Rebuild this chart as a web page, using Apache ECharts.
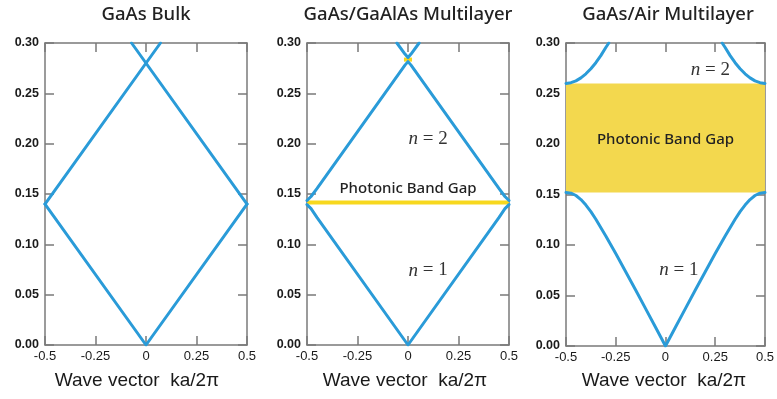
<!DOCTYPE html>
<html>
<head>
<meta charset="utf-8">
<script src="https://cdn.jsdelivr.net/npm/echarts@6/dist/echarts.min.js"></script>
<style>
  html, body { margin: 0; padding: 0; background: #fff; }
  #chart { width: 777px; height: 399px; }
</style>
</head>
<body>
<div id="chart"></div>
<script>
// ---- Tick labels ----
const kTickLabels = ['-0.5', '-0.25', '0', '0.25', '0.5'];
const wTickLabels = ['0.00', '0.05', '0.10', '0.15', '0.20', '0.25', '0.30'];

// ---- Panel titles ----
const panelTitles = ['GaAs Bulk', 'GaAs/GaAlAs Multilayer', 'GaAs/Air Multilayer'];
const axisTitle = 'Wave vector  ka/2\u03C0';

// ---- GaAs bulk: folded light lines [k, ωa/2πc] ----
const bulkV       = [[-0.5, 0.14], [0, 0], [0.5, 0.14]];
const bulkUpRight = [[-0.5, 0.14], [0.0714, 0.30]];
const bulkUpLeft  = [[0.5, 0.14], [-0.0714, 0.30]];

// ---- GaAs/GaAlAs multilayer bands ----
const mlBand1 = [[-0.5, 0.1395], [-0.48, 0.1355], [-0.45, 0.1265], [0, 0], [0.45, 0.1265], [0.48, 0.1355], [0.5, 0.1395]];
const mlBand2 = [[-0.5, 0.1435], [-0.48, 0.1475], [-0.45, 0.1555], [-0.015, 0.278], [0, 0.2815], [0.015, 0.278], [0.45, 0.1555], [0.48, 0.1475], [0.5, 0.1435]];
const mlBand3 = [[-0.055, 0.30], [-0.015, 0.289], [0, 0.2855], [0.015, 0.289], [0.055, 0.30]];
const mlGap    = [0.1395, 0.1435];
const mlGapTop = [0.2815, 0.2855];

// ---- GaAs/Air multilayer bands ----
const airBand1 = [[-0.5, 0.152], [-0.475, 0.1513], [-0.45, 0.149], [-0.425, 0.145], [-0.4, 0.1395], [-0.375, 0.133],
                  [-0.35, 0.1255], [-0.3, 0.109], [-0.25, 0.0915], [-0.2, 0.0735], [-0.15, 0.0555], [-0.1, 0.037],
                  [-0.05, 0.0185], [0, 0],
                  [0.05, 0.0185], [0.1, 0.037], [0.15, 0.0555], [0.2, 0.0735], [0.25, 0.0915], [0.3, 0.109],
                  [0.35, 0.1255], [0.375, 0.133], [0.4, 0.1395], [0.425, 0.145], [0.45, 0.149], [0.475, 0.1513], [0.5, 0.152]];
const airBand2Left  = [[-0.5, 0.26], [-0.475, 0.2607], [-0.45, 0.2625], [-0.425, 0.2655], [-0.4, 0.2695], [-0.375, 0.2745],
                       [-0.35, 0.2805], [-0.325, 0.2875], [-0.3, 0.2955], [-0.285, 0.30]];
const airBand2Right = [[0.5, 0.26], [0.475, 0.2607], [0.45, 0.2625], [0.425, 0.2655], [0.4, 0.2695], [0.375, 0.2745],
                       [0.35, 0.2805], [0.325, 0.2875], [0.3, 0.2955], [0.285, 0.30]];
const airGap = [0.152, 0.26];

const BLUE = '#2A9BD8';
const GAP_YELLOW = '#F3D84E';
const LINE_YELLOW = '#F7D81E';
const AXIS_GREY = '#7a7a7a';

const grids = [
  { left: 45,  top: 43, width: 202, height: 302 },
  { left: 307, top: 43, width: 202, height: 302 },
  { left: 566, top: 43, width: 201, height: 303 }
];

const xAxes = [], yAxes = [];
grids.forEach((g, i) => {
  const axLine = { onZero: false, lineStyle: { color: AXIS_GREY, width: 1.5 } };
  const tick = { inside: true, length: 9, lineStyle: { color: AXIS_GREY, width: 1.5 } };
  xAxes.push({
    type: 'value', gridIndex: i, position: 'bottom', min: -0.5, max: 0.5, interval: 0.25,
    axisLine: axLine, axisTick: tick, splitLine: { show: false },
    axisLabel: {
      margin: 5, color: '#1a1a1a', fontFamily: '"Liberation Sans", sans-serif',
      fontSize: 13, formatter: (v, idx) => kTickLabels[idx]
    }
  });
  xAxes.push({
    type: 'value', gridIndex: i, position: 'top', min: -0.5, max: 0.5, interval: 0.25,
    axisLine: axLine, axisTick: tick, splitLine: { show: false }, axisLabel: { show: false }
  });
  yAxes.push({
    type: 'value', gridIndex: i, position: 'left', min: 0, max: 0.3, interval: 0.05,
    axisLine: axLine, axisTick: tick, splitLine: { show: false },
    axisLabel: {
      margin: 6, color: '#1a1a1a', fontFamily: '"Liberation Sans", sans-serif', fontWeight: 'bold',
      fontSize: 12.5, formatter: (v, idx) => wTickLabels[idx]
    }
  });
  yAxes.push({
    type: 'value', gridIndex: i, position: 'right', min: 0, max: 0.3, interval: 0.05,
    axisLine: axLine, axisTick: tick, splitLine: { show: false }, axisLabel: { show: false }
  });
});

function band(panel, data) {
  return {
    type: 'line', xAxisIndex: panel * 2, yAxisIndex: panel * 2, data: data,
    showSymbol: false, z: 3, silent: true,
    lineStyle: { color: BLUE, width: 3, join: 'round', cap: 'round' }
  };
}

const nRich = { i: { fontFamily: '"Liberation Serif", serif', fontStyle: 'italic', fontSize: 19, color: '#333' } };
function nLabel(coord, text) {
  return {
    coord: coord, symbol: 'circle', symbolSize: 0,
    label: { show: true, position: 'inside', formatter: text, rich: nRich,
             fontFamily: '"Liberation Serif", serif', fontSize: 19, color: '#333' }
  };
}
const gapTextStyle = { show: true, position: 'inside', fontFamily: '"Noto Sans", sans-serif', fontSize: 15, fontWeight: 500, color: '#222' };

const series = [
  // GaAs bulk
  band(0, bulkV), band(0, bulkUpRight), band(0, bulkUpLeft),
  // GaAs/GaAlAs gaps and annotations
  {
    type: 'line', xAxisIndex: 2, yAxisIndex: 2, data: [], z: 1, silent: true,
    markArea: { silent: true, itemStyle: { color: LINE_YELLOW }, data: [
      [{ coord: [-0.5, mlGap[0]] }, { coord: [0.5, mlGap[1]] }],
      [{ coord: [-0.02, mlGapTop[0]] }, { coord: [0.02, mlGapTop[1]] }]
    ] },
    markPoint: { silent: true, data: [
      nLabel([0.1, 0.205], '{i|n} = 2'),
      nLabel([0.1, 0.074], '{i|n} = 1'),
      { coord: [0, 0.155], symbol: 'circle', symbolSize: 0, label: Object.assign({ formatter: 'Photonic Band Gap' }, gapTextStyle) }
    ] }
  },
  band(1, mlBand1), band(1, mlBand2), band(1, mlBand3),
  // GaAs/Air gap and annotations
  {
    type: 'line', xAxisIndex: 4, yAxisIndex: 4, data: [], z: 1, silent: true,
    markArea: { silent: true, itemStyle: { color: GAP_YELLOW }, data: [
      [{ coord: [-0.5, airGap[0]] }, { coord: [0.5, airGap[1]] }]
    ] },
    markPoint: { silent: true, data: [
      nLabel([0.226, 0.273], '{i|n} = 2'),
      nLabel([0.067, 0.075], '{i|n} = 1'),
      { coord: [0, 0.204], symbol: 'circle', symbolSize: 0, label: Object.assign({ formatter: 'Photonic Band Gap' }, gapTextStyle) }
    ] }
  },
  band(2, airBand1), band(2, airBand2Left), band(2, airBand2Right)
];

const titleCenters = [146, 408, 668];
const nameCenters = [137, 405, 664];
const graphic = [];
panelTitles.forEach((t, i) => {
  graphic.push({ type: 'text', x: titleCenters[i], y: 15, silent: true,
    style: { text: t, align: 'center', verticalAlign: 'middle', fill: '#222',
             font: '500 18.5px "Noto Sans", sans-serif' } });
  graphic.push({ type: 'text', x: nameCenters[i], y: 381, silent: true,
    style: { text: axisTitle, align: 'center', verticalAlign: 'middle', fill: '#1a1a1a',
             font: '19px "Liberation Sans", sans-serif' } });
});

const chart = echarts.init(document.getElementById('chart'), null, { renderer: 'canvas' });
chart.setOption({
  animation: false,
  backgroundColor: '#fff',
  grid: grids,
  xAxis: xAxes,
  yAxis: yAxes,
  series: series,
  graphic: graphic
});
</script>
</body>
</html>
